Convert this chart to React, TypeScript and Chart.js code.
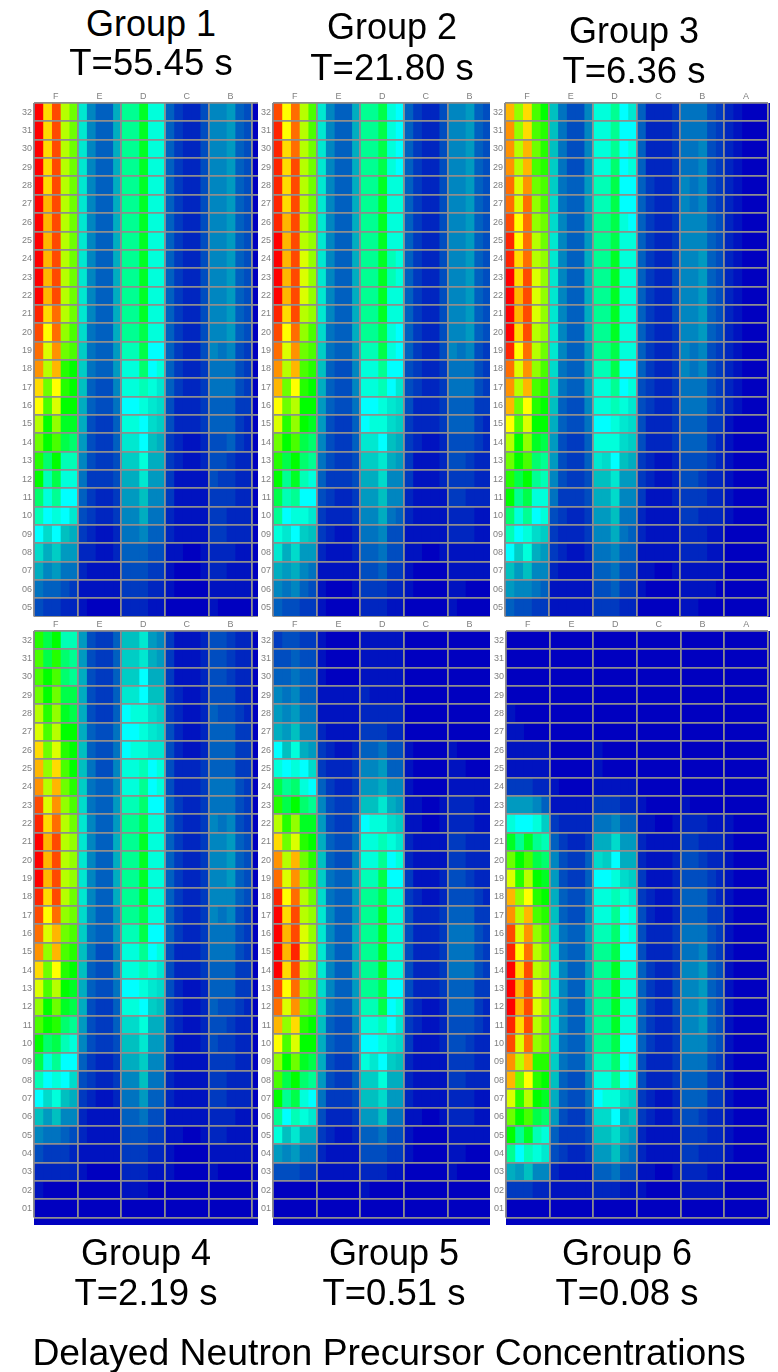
import React, { useEffect, useRef } from "react";
import { Chart, registerables } from "chart.js";

Chart.register(...registerables);

// Each row lists one base-36 colour-scale level (0 = lowest, z = highest) per
// fuel-pin column, grouped by assembly. First row = top row.
const rowsTop = ["32","31","30","29","28","27","26","25","24","23","22","21","20","19","18","17","16","15","14","13","12","11","10","09","08","07","06","05"];
const rowsBottom = [...rowsTop, "04", "03", "02", "01"];
const assemblies5 = ["F", "E", "D", "C", "B"];
const assemblies6 = ["F", "E", "D", "C", "B", "A"];

const group1Levels = [
  "ztxqo d7559 hhkff 53224 77854",
  "ztxqo d7559 hhkff 53224 77854",
  "ztxqo d7559 hhkff 53224 77854",
  "ztxqo d7559 hhkff 53224 77854",
  "ztxqo d7559 hhkff 53224 77854",
  "zuxqo d7559 hhkff 53224 77854",
  "zuxqo d7559 hhkff 53224 77854",
  "zuxqo d7559 hhkff 53224 77854",
  "zuxqo d7559 hhkff 53224 77854",
  "zuxqo d7559 hhkff 53224 77854",
  "zuxqo d7559 hhkff 53224 77854",
  "ytwqo d7559 hhkff 53224 77854",
  "xswpn c6559 hhjff 53224 77854",
  "wrvon b6558 ggjee 53224 76743",
  "vquml b6558 ffief 53223 66643",
  "tosml a5447 ffgfd 53223 66643",
  "snrll 95446 eefdc 42223 55533",
  "qlpkk 94335 ffecb 42223 55532",
  "olnji 84335 ddea9 32112 44532",
  "milgg 74334 bbf99 32112 44322",
  "lgjff 63334 99d88 31111 43322",
  "ifhee 53223 88a77 31111 33322",
  "gefed 43223 77966 21111 33222",
  "ecea9 32112 66755 21111 33222",
  "c9b88 22112 55544 11001 22211",
  "97866 21111 44433 10001 22111",
  "65543 11111 33322 10000 11111",
  "43322 10000 22211 00000 10000",
];

const group2Levels = [
  "xswqn d7559 hhjfe 53224 77854",
  "yswqn d7559 hhjfe 53224 77854",
  "ytwqo d7559 hhjfe 53224 77854",
  "ytxqo d7559 hhjfe 53224 77854",
  "ytxqo d7559 hhkff 53224 77854",
  "ytxqo d7559 hhkff 53224 77854",
  "yuxqo d7559 hhkff 53224 77854",
  "zuxqp d7559 hhkff 53224 77854",
  "zuxrp d7559 hhkgf 53224 77854",
  "zuxrp d7559 hhkgf 53224 77854",
  "zuxrp d7559 hhkff 53224 77854",
  "ytxqp d7559 hhkff 53224 77854",
  "xswpn c6559 hhjfe 53224 77854",
  "wrvon b6558 ggjfe 53224 76743",
  "vqunm a5447 ffhee 43223 66643",
  "uosml 95447 ffged 43223 66643",
  "soqll 85446 eefdc 42223 55533",
  "rmplk 84335 effcb 32223 55532",
  "olnji 74335 ddea9 32112 44432",
  "mjlih 64334 bbd98 31112 44322",
  "lhkgf 53334 99c77 31112 33322",
  "jghee 43223 88a77 21111 33222",
  "heffd 32223 77965 21111 22211",
  "fdeba 32112 66744 11111 22211",
  "d9c88 21112 55644 11001 11111",
  "98976 11111 44533 10000 11111",
  "76754 10001 33322 10000 11000",
  "54433 10000 22211 00000 10000",
];

const group3Levels = [
  "uptnl a6447 ffhed 52223 66643 21000",
  "vptnm a6447 ffhee 52223 66643 21000",
  "vquom a6447 ffhef 52223 66743 21000",
  "vqunm b6447 ffief 52223 66743 21000",
  "wrvon b6558 ggjee 53223 76743 21000",
  "wrwpn c6558 ggjee 53223 76743 21000",
  "xswpo c7558 hhjfe 53223 77754 21000",
  "yswqo d7558 hhjff 53223 77754 21000",
  "ytwqp d7559 hhkff 53224 77854 21000",
  "ztxrp d7559 hhkff 53224 77854 21000",
  "zuxrp d7559 hhkff 53224 77854 21000",
  "zuxrp d7559 hhkff 53224 77854 21000",
  "ztxqp d7559 hhkff 53223 77854 21000",
  "yswqo d7558 hhjff 53223 76743 21000",
  "wrvpn c6558 ggjee 53223 76743 21000",
  "vqunm b6558 ffhef 43223 66643 21000",
  "uosml a5447 ffgfd 43223 66643 21000",
  "snrll 95446 eefdc 42223 55533 10000",
  "qlpkj 84335 fffcb 42223 55532 10000",
  "olnih 84335 dcea9 32112 44432 10000",
  "mjlhg 74334 aad88 32112 44322 10000",
  "lhjff 63334 99c77 31112 33322 10000",
  "ifhef 43223 88a66 21111 33222 10000",
  "gefcb 32223 77965 21111 22211 00000",
  "ebf98 32112 66755 11111 22211 00000",
  "a8a77 21111 55644 11001 11111 00000",
  "87765 11111 44533 10000 11110 00000",
  "54433 11111 33322 00000 11000 00000",
];

const group4Levels = [
  "mjlgg 84335 aad87 31112 44322",
  "njmih 84335 bbd98 31112 44322",
  "nlnih 94335 bbe99 31112 44322",
  "olojj 94335 ddeaa 32112 44422",
  "qmpkj 94335 effcb 32112 54432",
  "rnqll 95446 eefdc 42112 55533",
  "torml a5446 effdd 42112 55533",
  "uptnl a6447 ffgef 42223 55533",
  "vquom b6557 ffhef 42223 66643",
  "xrvpn c6558 ggiee 53223 66643",
  "ytwqo d7558 hhjff 53223 76743",
  "zuxqp d7559 hhkff 53223 77854",
  "zuxqp d7559 hhkff 53223 77854",
  "zuxqp d7559 hhkff 53223 77854",
  "ytxqo d7559 hhkff 53223 77754",
  "xswpo c7558 hhjff 53223 76743",
  "wruon b6558 ggjee 53223 66643",
  "vpunm a6447 ffhef 42223 66643",
  "tosml a5447 ffgfd 42223 55533",
  "rnqlk 95446 eefdc 42112 55533",
  "plokj 94335 ffeba 32112 54432",
  "nlmih 84335 ccf99 32112 44322",
  "lijgf 74334 aad88 31112 43322",
  "jfhee 53223 99b77 21111 33322",
  "gefec 43223 77a66 21111 33222",
  "ecfa9 32112 66855 21111 33222",
  "a8a77 21111 55644 11111 22211",
  "76654 21111 44433 11001 22111",
  "43332 11111 33322 10000 11111",
  "22222 10000 22211 10000 10000",
  "10000 00000 11100 00000 00000",
  "00000 00000 00000 00000 00000",
];

const group5Levels = [
  "34433 10000 11111 00000 00000",
  "44544 10000 11111 00000 00000",
  "55655 10000 11111 00000 00000",
  "76755 11111 21111 00000 00000",
  "87866 11111 22222 00000 00000",
  "98a77 21111 33322 00000 00000",
  "eaf98 32112 55644 10000 10000",
  "fefec 32223 77855 10000 11000",
  "jhife 53223 88977 10000 11111",
  "mjlih 74334 aad98 11001 22211",
  "qmpkk 84335 effcb 11001 22211",
  "torml 95446 ffgfd 21111 33222",
  "vquom a5447 ffhef 21111 33222",
  "wrvpn b6558 ggjee 31112 44322",
  "yswqo c6558 hhjff 32112 44432",
  "ztxqp d7558 hhkff 42223 55533",
  "zuxrp d7559 hhkff 42223 66643",
  "zuyrp d7559 hhkff 42223 66643",
  "ztxqp d7559 hhkff 42223 66643",
  "xswpo c7558 hhjee 42223 55533",
  "wrvon b6558 ggjef 32112 55532",
  "uptml a5447 ffged 32112 44432",
  "snrll 95446 eefdc 31112 44322",
  "plokj 94335 fdeba 21111 33322",
  "njlih 84335 bbf99 21111 33222",
  "lhjfe 63334 aac88 21111 22211",
  "hegfd 42223 88a66 11001 22211",
  "fad99 32112 55644 10000 11111",
  "87866 21111 44433 10000 11000",
  "44433 11111 22211 00000 10000",
  "00000 00000 10000 00000 00000",
  "00000 00000 00000 00000 00000",
];

const group6Levels = [
  "00000 00000 00000 00000 00000 00000",
  "00000 00000 00000 00000 00000 00000",
  "00000 00000 00000 00000 00000 00000",
  "00000 00000 00000 00000 00000 00000",
  "10000 00000 00000 00000 00000 00000",
  "11000 00000 00000 00000 00000 00000",
  "11111 00000 10000 00000 00000 00000",
  "11111 00000 10000 00000 00000 00000",
  "33322 10000 11111 00000 00000 00000",
  "88875 11111 33322 10000 10000 00000",
  "feefb 32222 66755 11001 22211 10000",
  "khkhg 53223 99c88 21111 33222 10000",
  "olnji 74335 cbe99 21112 44322 10000",
  "rmqlk 84335 eefcb 31112 44432 10000",
  "upsml 95446 ffgfd 32112 55532 10000",
  "vqunm a5447 ffhef 42112 55533 10000",
  "xrvpn b6558 ggief 42223 66643 10000",
  "yswqo c6558 hhjee 42223 66743 10000",
  "ztxqp d7558 hhkff 53223 77854 10000",
  "zuxrp d7559 hhkff 53224 77854 10000",
  "zuxrp d7559 hhkff 53224 77854 10000",
  "ytxqo d7559 hhkff 53223 77854 10000",
  "xrwpo c6558 hhjee 53223 77754 10000",
  "vqumm b6558 ggief 42223 66643 10000",
  "uosml a5447 ffhef 42223 55533 10000",
  "rmqlk 95446 effcb 32112 55533 10000",
  "olnji 84335 cce9a 32112 44322 10000",
  "lhkgf 53334 aac98 21111 33322 10000",
  "hegfd 43223 88a76 21111 33222 10000",
  "98a77 21111 55644 11001 22211 00000",
  "33322 11111 22211 10000 11111 00000",
  "00000 00000 00000 00000 00000 00000",
];

const titles = [
  { lines: ["Group 1", "T=55.45 s"], x: 151, y: [24, 63] },
  { lines: ["Group 2", "T=21.80 s"], x: 392, y: [27, 68] },
  { lines: ["Group 3", "T=6.36 s"], x: 634, y: [31, 71] },
  { lines: ["Group 4", "T=2.19 s"], x: 146, y: [1253, 1293] },
  { lines: ["Group 5", "T=0.51 s"], x: 394, y: [1253, 1293] },
  { lines: ["Group 6", "T=0.08 s"], x: 627, y: [1253, 1293] },
];

const stops: [number, number[]][] = [
  [0, [0, 0, 192]],
  [10, [0, 192, 192]],
  [13, [0, 232, 208]],
  [14, [0, 255, 255]],
  [21, [0, 255, 0]],
  [28, [255, 255, 0]],
  [35, [255, 0, 0]],
];

function levelColor(level: number) {
  for (let i = 1; i < stops.length; i++) {
    const [l1, c1] = stops[i];
    const [l0, c0] = stops[i - 1];
    if (level <= l1) {
      const t = (level - l0) / (l1 - l0);
      const c = c0.map((v, k) => Math.round(v + (c1[k] - v) * t));
      return `rgb(${c[0]},${c[1]},${c[2]})`;
    }
  }
  return "rgb(255,0,0)";
}

const GRID = "#8e8e8e";
const TICK = "#808080";
const LABEL_W = 16;
const HEAD_H = 15;
const PAD = 3;

type PanelProps = {
  levels: string[];
  rows: string[];
  letters: string[];
  gridLeft: number;
  gridTop: number;
  assemblyW: number;
  rowH: number;
  clipRight: number;
  clipBottom: number;
  clipLeft: number;
  clipTop: number;
};

function Panel(p: PanelProps) {
  const ref = useRef<HTMLCanvasElement | null>(null);
  const plotW = assemblies6.length * p.assemblyW;
  const plotH = p.rows.length * p.rowH;
  useEffect(() => {
    const cells = p.levels.map((r) => Array.from(r.replace(/ /g, "")).map((c) => parseInt(c, 36)));
    const columns = cells[0].length;
    const datasets = Array.from({ length: columns }, (_, col) => ({
      label: `pin ${col + 1}`,
      data: cells.map(() => 1),
      levels: cells.map((r) => r[col]),
      backgroundColor: cells.map((r) => levelColor(r[col])),
      borderWidth: 0,
      inflateAmount: 0.5,
      barPercentage: 1,
      categoryPercentage: 1,
    }));
    const chart = new Chart(ref.current as HTMLCanvasElement, {
      type: "bar",
      data: { labels: p.rows, datasets: datasets as any },
      options: {
        indexAxis: "y",
        responsive: false,
        animation: false,
        layout: { padding: { left: 0, top: 0, right: PAD, bottom: PAD } },
        plugins: { legend: { display: false }, tooltip: { enabled: false }, title: { display: false } },
        scales: {
          x: {
            type: "linear",
            position: "top",
            stacked: true,
            min: 0,
            max: 30,
            afterBuildTicks: (s: any) => {
              const t = [];
              for (let i = 0; i <= 12; i++) t.push({ value: i * 2.5 });
              s.ticks = t;
            },
            afterFit: (s: any) => {
              s.height = HEAD_H;
            },
            grid: {
              z: 1,
              lineWidth: 1.8,
              drawTicks: false,
              color: (c: any) => (c.tick && c.tick.value % 5 === 0 ? GRID : "rgba(0,0,0,0)"),
            },
            border: { display: false },
            ticks: {
              autoSkip: false,
              maxRotation: 0,
              padding: 1,
              color: TICK,
              font: { family: "Liberation Sans", size: 9 },
              callback: (v: any) => {
                const idx = (Number(v) - 2.5) / 5;
                return Number.isInteger(idx) ? p.letters[idx] ?? "" : "";
              },
            },
          },
          y: {
            type: "category",
            stacked: true,
            offset: true,
            afterFit: (s: any) => {
              s.width = LABEL_W;
            },
            grid: { z: 1, offset: true, lineWidth: 1.8, color: GRID, drawTicks: false },
            border: { display: false },
            ticks: {
              autoSkip: false,
              padding: 2,
              color: TICK,
              font: { family: "Liberation Sans", size: 9 },
            },
          },
        },
      } as any,
    });
    return () => chart.destroy();
  }, []);

  const canvasLeft = p.gridLeft - LABEL_W;
  const canvasTop = p.gridTop - HEAD_H;
  return (
    <div
      style={{
        position: "absolute",
        left: p.clipLeft,
        top: p.clipTop,
        width: p.clipRight - p.clipLeft,
        height: p.clipBottom - p.clipTop,
        overflow: "hidden",
      }}
    >
      <div
        style={{
          position: "absolute",
          left: p.gridLeft - p.clipLeft,
          top: p.gridTop - p.clipTop,
          width: plotW + 3,
          height: plotH + 3,
          background: "#0000c0",
        }}
      />
      <canvas
        ref={ref}
        width={LABEL_W + plotW + PAD}
        height={HEAD_H + plotH + PAD}
        style={{
          position: "absolute",
          left: canvasLeft - p.clipLeft,
          top: canvasTop - p.clipTop,
          filter: "blur(0.7px)",
        }}
      />
    </div>
  );
}

const textStyle = (x: number, y: number, size: number): React.CSSProperties => ({
  position: "absolute",
  left: x - 380,
  width: 760,
  top: y - 30,
  height: 60,
  lineHeight: "60px",
  textAlign: "center",
  fontFamily: "'Liberation Sans', Arial, sans-serif",
  fontSize: size,
  color: "#000",
  whiteSpace: "nowrap",
});

export default function App() {
  const top = { rows: rowsTop, gridTop: 103, rowH: 18.53, clipTop: 88, clipBottom: 617 };
  const bottom = { rows: rowsBottom, gridTop: 631, rowH: 18.47, clipTop: 620, clipBottom: 1225 };
  return (
    <div style={{ position: "absolute", left: 0, top: 0, width: 778, height: 1372, background: "#fff", overflow: "hidden" }}>
      <Panel {...top} levels={group1Levels} letters={assemblies5} gridLeft={34} assemblyW={43.8} clipLeft={16} clipRight={258} />
      <Panel {...top} levels={group2Levels} letters={assemblies5} gridLeft={273} assemblyW={43.8} clipLeft={258} clipRight={490} />
      <Panel {...top} levels={group3Levels} letters={assemblies6} gridLeft={504.5} assemblyW={43.85} clipLeft={490} clipRight={770} />
      <Panel {...bottom} levels={group4Levels} letters={assemblies5} gridLeft={34} assemblyW={43.8} clipLeft={16} clipRight={258} />
      <Panel {...bottom} levels={group5Levels} letters={assemblies5} gridLeft={273} assemblyW={43.8} clipLeft={258} clipRight={490} />
      <Panel {...bottom} levels={group6Levels} letters={assemblies6} gridLeft={505.5} assemblyW={43.7} clipLeft={490} clipRight={770} />
      {titles.map((t) =>
        t.lines.map((line, i) => (
          <div key={line} style={textStyle(t.x, t.y[i], i === 0 ? 36 : 36.5)}>
            {line}
          </div>
        ))
      )}
      <div style={textStyle(389, 1352, 37.3)}>Delayed Neutron Precursor Concentrations</div>
    </div>
  );
}
